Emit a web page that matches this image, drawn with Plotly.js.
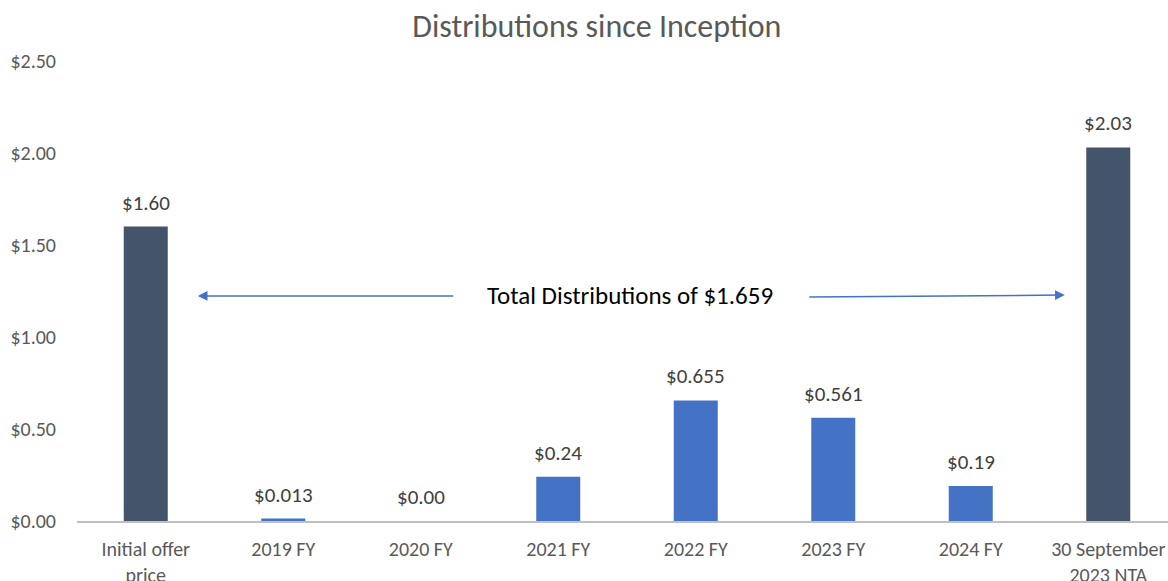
<!DOCTYPE html>
<html>
<head>
<meta charset="utf-8">
<script src="https://cdn.plot.ly/plotly-3.0.1.min.js"></script>
<style>html,body{margin:0;padding:0;background:#fff}#chart{width:1168px;height:581px}</style>
</head>
<body>
<div id="chart"></div>
<script>
const categories = ["Initial offer<br>price", "2019 FY", "2020 FY", "2021 FY", "2022 FY", "2023 FY", "2024 FY", "30 September<br>2023 NTA"];
const values = [1.60, 0.013, 0.00, 0.24, 0.655, 0.561, 0.19, 2.03];
const valueLabels = ["$1.60", "$0.013", "$0.00", "$0.24", "$0.655", "$0.561", "$0.19", "$2.03"];
const yTickValues = [0, 0.5, 1.0, 1.5, 2.0, 2.5];
const yTickLabels = ["$0.00", "$0.50", "$1.00", "$1.50", "$2.00", "$2.50"];
const totalLabel = "Total Distributions of $1.659";
const arrowLevel = 1.223;

const FONT = "Carlito, Calibri, Lato, 'Liberation Sans', sans-serif";
const colors = categories.map((c, i) => (i === 0 || i === categories.length - 1) ? "#44546A" : "#4472C4");
const xIdx = categories.map((c, i) => i);

const trace = {
  type: "bar",
  x: xIdx,
  y: values,
  width: 0.32,
  marker: {color: colors},
  hoverinfo: "skip"
};

const labelAnnotations = values.map((v, i) => ({
  x: i, y: v, xref: "x", yref: "y", text: valueLabels[i], showarrow: false,
  xanchor: "center", yanchor: "bottom", yshift: 9,
  font: {family: FONT, size: 21, color: "#404040"}
}));

const layout = {
  width: 1168,
  height: 581,
  margin: {l: 77, r: 0, t: 61, b: 60},
  paper_bgcolor: "#fff",
  plot_bgcolor: "#fff",
  showlegend: false,
  font: {family: FONT, color: "#595959"},
  title: {text: "Distributions since Inception", x: 0.511, xanchor: "center", y: 0.955, yanchor: "middle", font: {family: FONT, size: 32, color: "#595959"}},
  xaxis: {
    range: [-0.5, 7.4345],
    tickmode: "array",
    tickvals: xIdx,
    ticktext: categories,
    showgrid: false,
    zeroline: false,
    showline: true,
    linecolor: "#BFBFBF",
    linewidth: 1.5,
    ticks: "outside",
    ticklen: 9,
    tickcolor: "rgba(0,0,0,0)",
    tickfont: {family: FONT, size: 20, color: "#595959"},
    fixedrange: true
  },
  yaxis: {
    range: [0, 2.5],
    tickmode: "array",
    tickvals: yTickValues,
    ticktext: yTickLabels,
    showgrid: false,
    zeroline: false,
    showline: false,
    ticks: "outside",
    ticklen: 16,
    tickcolor: "rgba(0,0,0,0)",
    tickfont: {family: FONT, size: 20, color: "#595959"},
    fixedrange: true
  },
  annotations: labelAnnotations.concat([
    {x: 0.378, y: arrowLevel, ax: 2.247, ay: arrowLevel, xref: "x", yref: "y", axref: "x", ayref: "y",
     showarrow: true, arrowhead: 2, arrowsize: 1.3, arrowwidth: 1.5, arrowcolor: "#4472C4", text: ""},
    {x: 6.684, y: arrowLevel + 0.005, ax: 4.815, ay: arrowLevel - 0.005, xref: "x", yref: "y", axref: "x", ayref: "y",
     showarrow: true, arrowhead: 2, arrowsize: 1.3, arrowwidth: 1.5, arrowcolor: "#4472C4", text: ""},
    {x: 3.52, y: arrowLevel + 0.003, xref: "x", yref: "y", showarrow: false, text: totalLabel,
     font: {family: FONT, size: 25, color: "#000000"}, xanchor: "center", yanchor: "middle"}
  ])
};

Plotly.newPlot("chart", [trace], layout, {displayModeBar: false, staticPlot: true});
</script>
</body>
</html>
